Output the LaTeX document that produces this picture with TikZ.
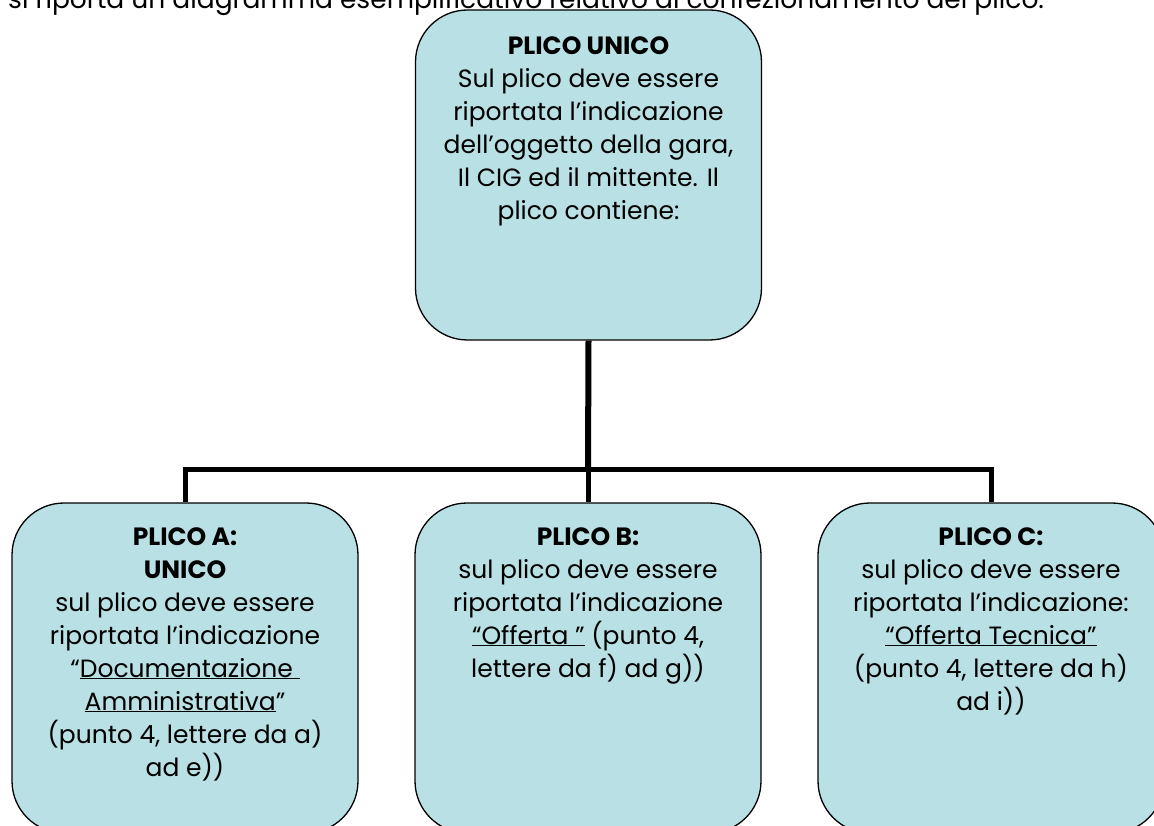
\documentclass[tikz,border=0pt]{standalone}
\usepackage{fontspec}
\setmainfont{Poppins}
\usetikzlibrary{positioning}

\definecolor{boxfill}{RGB}{185,224,228}

\begin{document}
\begin{tikzpicture}[x=1pt, y=-1pt,
    plico/.style={rectangle, rounded corners=52pt, draw=black, line width=1.3pt,
      fill=boxfill, minimum width=346pt, minimum height=330pt, inner sep=0pt},
    txt/.style={anchor=north, align=center, inner sep=0pt,
      font=\fontsize{25}{33}\selectfont},
    conn/.style={line width=5pt, line join=miter}]

  \useasboundingbox (0,0) rectangle (1154,826);

  \node[anchor=base west, inner sep=0pt, font=\fontsize{26.5}{33}\selectfont] (intro) at (8,9)
    {si riporta un diagramma esemplificativo relativo al confezionamento del plico.};

  % boxes
  \node[plico] (unico) at (588.5,175) {};
  \node[plico] (A) at (185,668) {};
  \node[plico] (B) at (588,668) {};
  \node[plico] (C) at (991,668) {};

  % connectors
  \coordinate (bus) at (588,469);
  \draw[conn, line width=6pt] (unico.south) -- (bus);
  \draw[conn] (bus) -- (B.north);
  \draw[conn] (A.north) |- (bus) -| (C.north);

  % texts
  \node[txt] (tunico) at (588.5,37) {\textbf{PLICO UNICO}\\Sul plico deve essere\\riportata l’indicazione\\dell’oggetto della gara,\\Il CIG ed il mittente. Il\\plico contiene:};
  \node[txt] (tA) at (185,527) {\textbf{PLICO A:}\\\textbf{UNICO}\\sul plico deve essere\\riportata l’indicazione\\“\underline{Documentazione }\\\underline{Amministrativa}”\\(punto 4, lettere da a)\\ad e))};
  \node[txt] (tB) at (588,527) {\textbf{PLICO B:}\\sul plico deve essere\\riportata l’indicazione\\\underline{“Offerta ”} (punto 4,\\lettere da f) ad g))};
  \node[txt] (tC) at (991,527) {\textbf{PLICO C:}\\sul plico deve essere\\riportata l’indicazione:\\\underline{“Offerta Tecnica”}\\(punto 4, lettere da h)\\ad i))};
\end{tikzpicture}
\end{document}
